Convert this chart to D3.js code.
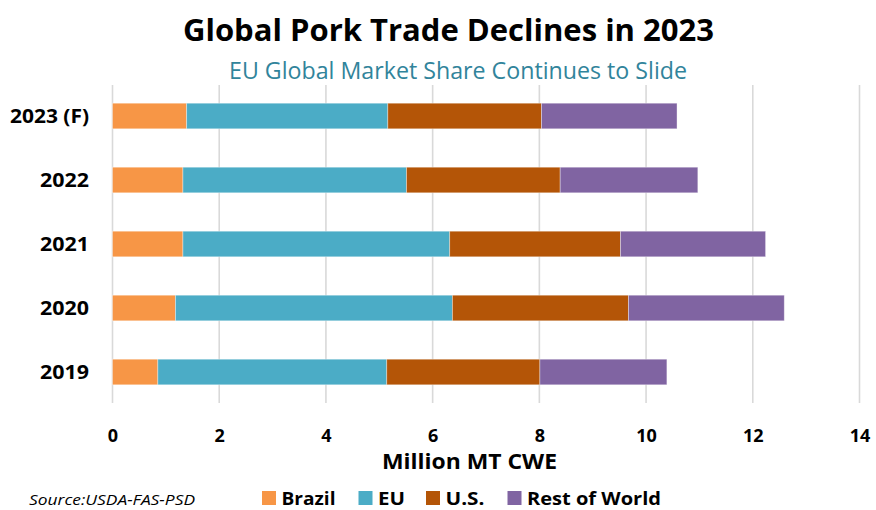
<!DOCTYPE html>
<html>
<head>
<meta charset="utf-8">
<script src="https://cdn.jsdelivr.net/npm/d3@7"></script>
<style>
body { margin: 0; background: #fff; }
text { font-family: "Open Sans", "Liberation Sans", sans-serif; }
</style>
</head>
<body>
<div class="chart"></div>
<script>
// data (million MT CWE)
var years = ["2023 (F)", "2022", "2021", "2020", "2019"]
var brazil = [1.39, 1.32, 1.32, 1.18, 0.85]
var eu = [3.77, 4.19, 5.00, 5.19, 4.29]
var us = [2.88, 2.88, 3.20, 3.30, 2.87]
var rest = [2.54, 2.58, 2.72, 2.92, 2.38]
var seriesNames = ["Brazil", "EU", "U.S.", "Rest of World"]
var seriesColors = ["#F79646", "#4BACC6", "#B45507", "#8064A2"]
var xTicks = [0, 2, 4, 6, 8, 10, 12, 14]

var width = 876
var height = 510

var svg = d3.select(".chart").append("svg")
    .attr("width", width)
    .attr("height", height)

var table = years.map(function(y, i) {
    return { year: y, "Brazil": brazil[i], "EU": eu[i], "U.S.": us[i], "Rest of World": rest[i] }
})
var stacked = d3.stack().keys(seriesNames)(table)

var xScale = d3.scaleLinear().domain([0, 14]).range([112.5, 859.5])
var yScale = d3.scaleBand().domain(years).range([84, 404]).paddingInner(0.6).paddingOuter(0.3)
var color = d3.scaleOrdinal().domain(seriesNames).range(seriesColors)

// gridlines
svg.append("g")
    .selectAll("line")
    .data(xTicks)
    .enter()
    .append("line")
    .attr("x1", function(d) { return xScale(d) })
    .attr("x2", function(d) { return xScale(d) })
    .attr("y1", 85)
    .attr("y2", 403)
    .style("stroke", "#d9d9d9")
    .style("stroke-width", 1.6)

// bars
svg.append("g")
    .selectAll("g")
    .data(stacked)
    .enter()
    .append("g")
    .style("fill", function(d) { return color(d.key) })
    .selectAll("rect")
    .data(function(d) { return d })
    .enter()
    .append("rect")
    .attr("x", function(d) { return xScale(d[0]) })
    .attr("y", function(d) { return yScale(d.data.year) })
    .attr("width", function(d) { return xScale(d[1]) - xScale(d[0]) })
    .attr("height", yScale.bandwidth())
    .style("stroke", "rgba(255,255,255,0.45)")
    .style("stroke-width", 0.8)

// x axis labels
var xAxis = d3.axisBottom(xScale).tickValues(xTicks).tickSize(0).tickPadding(0)
var gx = svg.append("g")
    .attr("transform", "translate(0,429)")
    .call(xAxis)
gx.select(".domain").remove()
gx.selectAll("text")
    .attr("dy", "0.71em")
    .style("font-family", "'Open Sans', sans-serif")
    .style("font-size", "18px")
    .style("font-weight", "bold")
    .style("fill", "#000")

// y axis labels
var yAxis = d3.axisLeft(yScale).tickSize(0).tickPadding(0)
var gy = svg.append("g")
    .attr("transform", "translate(89,0)")
    .call(yAxis)
gy.select(".domain").remove()
gy.selectAll("text")
    .attr("dy", "0.36em")
    .style("font-family", "'Open Sans', sans-serif")
    .style("font-size", "19px")
    .style("font-weight", "bold")
    .style("fill", "#000")
    .attr("textLength", function(d) { return d === "2023 (F)" ? 79 : 49 })
    .attr("lengthAdjust", "spacingAndGlyphs")

// titles
svg.append("text")
    .attr("x", 183)
    .attr("y", 41)
    .attr("textLength", 531)
    .attr("lengthAdjust", "spacingAndGlyphs")
    .style("font-size", "30px")
    .style("font-weight", "bold")
    .style("fill", "#000")
    .text("Global Pork Trade Declines in 2023")

svg.append("text")
    .attr("x", 229)
    .attr("y", 78.5)
    .attr("textLength", 458)
    .attr("lengthAdjust", "spacingAndGlyphs")
    .style("font-size", "23px")
    .style("fill", "#31849B")
    .text("EU Global Market Share Continues to Slide")

svg.append("text")
    .attr("x", 382)
    .attr("y", 469)
    .attr("textLength", 175)
    .attr("lengthAdjust", "spacingAndGlyphs")
    .style("font-size", "21px")
    .style("font-weight", "bold")
    .style("fill", "#000")
    .text("Million MT CWE")

svg.append("text")
    .attr("x", 29)
    .attr("y", 504.5)
    .attr("textLength", 166)
    .attr("lengthAdjust", "spacingAndGlyphs")
    .style("font-size", "14px")
    .style("font-style", "italic")
    .style("fill", "#000")
    .text("Source:USDA-FAS-PSD")

// legend
var legendX = [262, 358.5, 426, 507.5]
var legendW = [54, 27, 39, 134]
var legend = svg.append("g")
    .selectAll("g")
    .data(seriesNames)
    .enter()
    .append("g")
    .attr("transform", function(d, i) { return "translate(" + legendX[i] + ",0)" })
legend.append("rect")
    .attr("x", 0)
    .attr("y", 491)
    .attr("width", 14)
    .attr("height", 14)
    .style("fill", function(d) { return color(d) })
legend.append("text")
    .attr("x", 19.5)
    .attr("y", 504.5)
    .attr("textLength", function(d, i) { return legendW[i] })
    .attr("lengthAdjust", "spacingAndGlyphs")
    .style("font-size", "18.5px")
    .style("font-weight", "bold")
    .style("fill", "#000")
    .text(function(d) { return d })
</script>
</body>
</html>
